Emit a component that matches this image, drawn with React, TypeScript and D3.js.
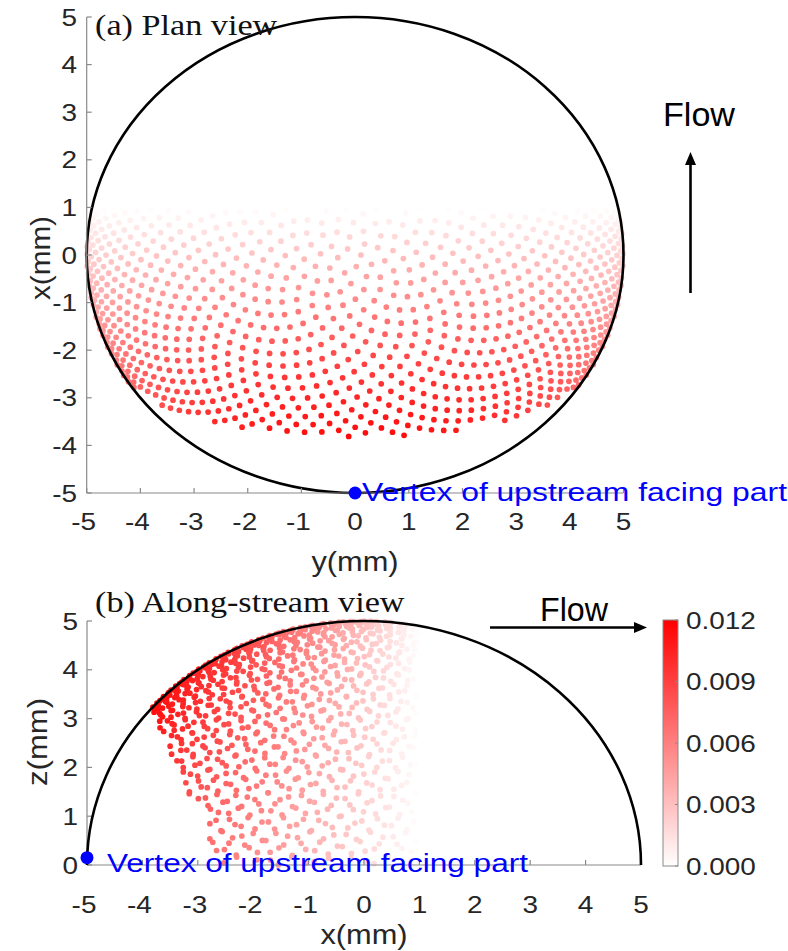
import React from "react";
import * as d3 from "d3";

const W = 788;
const H = 951;
const R = 5; // dome radius, mm

const axisTicks = [-5, -4, -3, -2, -1, 0, 1, 2, 3, 4, 5];
const zTicks = [0, 1, 2, 3, 4, 5];
const colorTicks = [0, 0.003, 0.006, 0.009, 0.012];
const colorTickLabels = ["0.000", "0.003", "0.006", "0.009", "0.012"];
const colorMax = 0.012;

// Deposition on the dome centreline (y = 0) at streamwise stations x (mm)
const stationX = [-3.85, -3.5, -3.0, -2.5, -2.0, -1.5, -1.0, -0.5, 0.0, 0.5, 1.0];
const stationDeposition = [0.0116, 0.0111, 0.0103, 0.0094, 0.0083, 0.007, 0.0057, 0.0044, 0.003, 0.0015, 0.0];

// Relative weight of deposition with height above the wall
const heightZ = [0, 1, 2, 3, 4, 5];
const heightWeight = [0.62, 0.7, 0.79, 0.88, 0.96, 1.0];

// Upstream edge of the deposited zone: x of the edge at wall height z
const edgeZ = [0, 3.1];
const edgeX = [-2.58, -3.8];

// Surface mesh of the dome (sunflower nodes, packed toward the rim)
const meshNodeCount = 2000;
const meshRimPacking = 1.9;

const FONT = "'Liberation Sans', Arial, sans-serif";
const SERIF = "'Liberation Serif', 'Times New Roman', serif";
const TICK_COLOR = "#262626";
const AXIS_COLOR = "#8a8a8a";
const STRETCH = 1.14;
const DOT_R = 2.85;

type Node = { x: number; y: number; z: number; v: number };

const golden = Math.PI * (3 - Math.sqrt(5));
const alongX = d3.scaleLinear().domain(stationX).range(stationDeposition).clamp(true);
const withHeight = d3.scaleLinear().domain(heightZ).range(heightWeight).clamp(true);
const edgeAt = d3.scaleLinear().domain(edgeZ).range(edgeX);

const nodes: Node[] = d3
  .range(meshNodeCount)
  .map((k) => {
    const u = (k + 0.5) / meshNodeCount;
    const rho = 1 - Math.pow(1 - u, meshRimPacking);
    const r = R * Math.sqrt(rho);
    const t = k * golden;
    const x = r * Math.sin(t);
    const y = r * Math.cos(t);
    const z = Math.sqrt(Math.max(0, R * R - r * r));
    let v = 0;
    if (x >= edgeAt(z)) {
      const zc = Math.sqrt(Math.max(0, R * R - x * x));
      v = alongX(x) * (withHeight(z) / withHeight(zc));
    }
    return { x, y, z, v };
  })
  .filter((n) => n.v > 0.00006);

const color = d3
  .scaleLinear<string>()
  .domain([0, colorMax])
  .range(["#ffffff", "#ff0000"])
  .interpolate(d3.interpolateRgb)
  .clamp(true);

// Plan view scales
const planY = d3.scaleLinear().domain([-5, 5]).range([86.7, 623.5]);
const planX = d3.scaleLinear().domain([-5, 5]).range([493, 17]);
// Along-stream view scales
const sideX = d3.scaleLinear().domain([-5, 5]).range([87, 641]);
const sideZ = d3.scaleLinear().domain([0, 5]).range([865, 621]);
// Colour bar
const barY = d3.scaleLinear().domain([0, colorMax]).range([866, 620]);

function Txt(props: {
  x: number;
  y: number;
  children: React.ReactNode;
  size: number;
  anchor?: "start" | "middle" | "end";
  fill?: string;
  family?: string;
  sx?: number;
  rotate?: number;
  length?: number;
}) {
  const { x, y, size, anchor = "start", fill = TICK_COLOR, family = FONT, sx = STRETCH, rotate = 0, length } = props;
  return (
    <text
      transform={`translate(${x},${y}) rotate(${rotate}) scale(${sx},1)`}
      fontSize={size}
      fontFamily={family}
      textAnchor={anchor}
      fill={fill}
      textLength={length}
      lengthAdjust={length ? "spacingAndGlyphs" : undefined}
    >
      {props.children}
    </text>
  );
}

function Arrow({ x1, y1, x2, y2 }: { x1: number; y1: number; x2: number; y2: number }) {
  const ang = Math.atan2(y2 - y1, x2 - x1);
  const len = 13;
  const half = 5.5;
  const bx = x2 - len * Math.cos(ang);
  const by = y2 - len * Math.sin(ang);
  const px = -Math.sin(ang) * half;
  const py = Math.cos(ang) * half;
  return (
    <g>
      <line x1={x1} y1={y1} x2={bx} y2={by} stroke="#000" strokeWidth={2.6} />
      <polygon points={`${x2},${y2} ${bx + px},${by + py} ${bx - px},${by - py}`} fill="#000" />
    </g>
  );
}

function PlanView() {
  const cx = planY(0);
  const cy = planX(0);
  const rx = planY(R) - planY(0);
  const ry = planX(0) - planX(R);
  return (
    <g>
      {nodes.map((n, i) => (
        <circle key={i} cx={planY(n.y)} cy={planX(n.x)} r={DOT_R} fill={color(n.v)} />
      ))}
      <ellipse cx={cx} cy={cy} rx={rx} ry={ry} fill="none" stroke="#000" strokeWidth={2.6} />
      {/* axes */}
      <line x1={planY(-5)} y1={planX(-5)} x2={planY(-5)} y2={planX(5)} stroke={AXIS_COLOR} strokeWidth={1.2} />
      <line x1={planY(-5)} y1={planX(-5)} x2={planY(5)} y2={planX(-5)} stroke={AXIS_COLOR} strokeWidth={1.2} />
      {axisTicks.map((t) => (
        <g key={"pl" + t}>
          <line x1={planY(-5)} x2={planY(-5) + 5} y1={planX(t)} y2={planX(t)} stroke={AXIS_COLOR} strokeWidth={1.2} />
          <Txt x={77} y={planX(t) + 8.5} size={24.5} anchor="end">{t}</Txt>
          <line x1={planY(t)} x2={planY(t)} y1={planX(-5)} y2={planX(-5) - 5} stroke={AXIS_COLOR} strokeWidth={1.2} />
          <Txt x={planY(t) - (t < 0 ? 3 : 0)} y={530} size={24.5} anchor="middle">{t}</Txt>
        </g>
      ))}
      <Txt x={50} y={258} size={27} anchor="middle" rotate={-90} sx={1} length={84}>x(mm)</Txt>
      <Txt x={355} y={571} size={27} anchor="middle">y(mm)</Txt>
      <Txt x={95} y={35} size={30} family={SERIF} fill="#111">(a) Plan view</Txt>
      {/* vertex */}
      <circle cx={planY(0)} cy={planX(-5)} r={6.5} fill="#0000ff" />
      <Txt x={362} y={501} size={25} fill="#0000ff" sx={1} length={425}>Vertex of upstream facing part</Txt>
      {/* flow direction */}
      <Txt x={663} y={126} size={33} fill="#000" sx={1} length={72}>Flow</Txt>
      <Arrow x1={690.5} y1={293} x2={690.5} y2={152} />
    </g>
  );
}

function SideView() {
  const x0 = sideX(-R);
  const x1 = sideX(R);
  const y0 = sideZ(0);
  const rx = sideX(R) - sideX(0);
  const ry = sideZ(0) - sideZ(R);
  const dome = `M${x0},${y0} A${rx},${ry} 0 0 1 ${x1},${y0}`;
  return (
    <g>
      {nodes.map((n, i) => (
        <circle key={i} cx={sideX(n.x)} cy={sideZ(n.z)} r={DOT_R} fill={color(n.v)} />
      ))}
      <line x1={sideX(-5)} y1={sideZ(0)} x2={sideX(-5)} y2={sideZ(5)} stroke={AXIS_COLOR} strokeWidth={1.2} />
      <line x1={sideX(-5)} y1={sideZ(0)} x2={sideX(5)} y2={sideZ(0)} stroke={AXIS_COLOR} strokeWidth={1.2} />
      {zTicks.map((t) => (
        <g key={"sz" + t}>
          <line x1={sideX(-5)} x2={sideX(-5) + 5} y1={sideZ(t)} y2={sideZ(t)} stroke={AXIS_COLOR} strokeWidth={1.2} />
          <Txt x={78} y={sideZ(t) + 8.5} size={24.5} anchor="end">{t}</Txt>
        </g>
      ))}
      {axisTicks.map((t) => (
        <g key={"sx" + t}>
          <line x1={sideX(t)} x2={sideX(t)} y1={sideZ(0)} y2={sideZ(0) - 5} stroke={AXIS_COLOR} strokeWidth={1.2} />
          <Txt x={sideX(t) - (t < 0 ? 3 : 0)} y={913} size={24.5} anchor="middle">{t}</Txt>
        </g>
      ))}
      <path d={dome} fill="none" stroke="#000" strokeWidth={2.6} />
      <Txt x={47} y={742} size={27} anchor="middle" rotate={-90} sx={1} length={88}>z(mm)</Txt>
      <Txt x={364} y={944} size={27} anchor="middle">x(mm)</Txt>
      <Txt x={95} y={612} size={30} family={SERIF} fill="#111">(b) Along-stream view</Txt>
      <circle cx={sideX(-5)} cy={sideZ(0.15)} r={6.5} fill="#0000ff" />
      <Txt x={107} y={872} size={25} fill="#0000ff" sx={1} length={421}>Vertex of upstream facing part</Txt>
      <Txt x={540} y={621} size={33} fill="#000" sx={1} length={68}>Flow</Txt>
      <Arrow x1={490} y1={627.5} x2={647} y2={627.5} />
    </g>
  );
}

function ColorBar() {
  const x = 663;
  const w = 15;
  const top = barY(colorMax);
  const bottom = barY(0);
  const stops = d3.range(0, 1.0001, 0.25);
  return (
    <g>
      <defs>
        <linearGradient id="depGrad" x1="0" y1="1" x2="0" y2="0">
          {stops.map((s) => (
            <stop key={s} offset={s} stopColor={color(s * colorMax)} />
          ))}
        </linearGradient>
      </defs>
      <rect x={x} y={top} width={w} height={bottom - top} fill="url(#depGrad)" stroke={AXIS_COLOR} strokeWidth={1} />
      {colorTicks.map((t, i) => (
        <g key={"c" + t}>
          <line x1={x + w} x2={x + w - 3} y1={barY(t)} y2={barY(t)} stroke={AXIS_COLOR} strokeWidth={1} />
          <Txt x={686} y={barY(t) + 8.5} size={24.5}>{colorTickLabels[i]}</Txt>
        </g>
      ))}
    </g>
  );
}

export default function App() {
  return (
    <svg
      width={W}
      height={H}
      viewBox={`0 0 ${W} ${H}`}
      style={{ position: "absolute", left: 0, top: 0, display: "block", background: "#fff" }}
    >
      <rect x={0} y={0} width={W} height={H} fill="#fff" />
      <PlanView />
      <SideView />
      <ColorBar />
    </svg>
  );
}
